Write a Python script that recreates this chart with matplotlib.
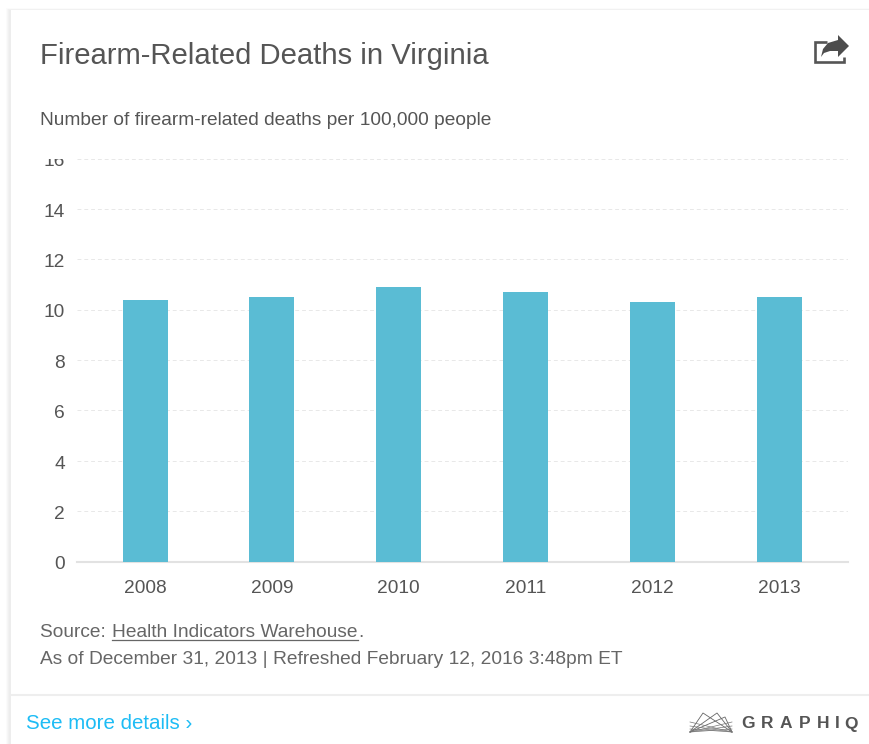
import matplotlib
matplotlib.use("Agg")
import matplotlib.pyplot as plt
from matplotlib.patches import Rectangle, Polygon
from matplotlib.transforms import Bbox, ScaledTranslation

plt.rcParams['font.family'] = ['Liberation Sans', 'DejaVu Sans']

W, H = 870, 744
years = ['2008', '2009', '2010', '2011', '2012', '2013']
rates = [10.4, 10.5, 10.9, 10.7, 10.3, 10.5]
y_ticks = [0, 2, 4, 6, 8, 10, 12, 14, 16]

title = 'Firearm-Related Deaths in Virginia'
subtitle = 'Number of firearm-related deaths per 100,000 people'
source_prefix = 'Source: '
source_link = 'Health Indicators Warehouse'
refreshed = 'As of December 31, 2013 | Refreshed February 12, 2016 3:48pm ET'
details = 'See more details ›'
brand = 'GRAPHIQ'
brand_x = [741, 761, 780, 799, 817, 835, 844]

fig = plt.figure(figsize=(W / 100, H / 100), dpi=100, facecolor='white')

bg = fig.add_axes([0, 0, 1, 1], zorder=0)
bg.set_xlim(0, W)
bg.set_ylim(H, 0)
bg.axis('off')

# card shadow
for x0, y0, c in [(6, 8, '#fbfbfb'), (7, 8.5, '#f6f6f6'), (8.5, 9, '#f1f1f1'), (9.5, 9.5, '#ededed')]:
    bg.add_patch(Rectangle((x0, y0), W, H, fc=c, ec='none', zorder=1))
bg.add_patch(Rectangle((11, 10), W, H, fc='white', ec='none', zorder=2))
bg.plot([11, W], [695, 695], color='#eeeeee', lw=1.5, zorder=3, solid_capstyle='butt')

ax = fig.add_axes([77 / W, 1 - 561.6 / H, (848 - 77) / W, (561.6 - 158.6) / H], zorder=2)
ax.patch.set_alpha(0)
ax.bar(range(len(years)), rates, width=0.355, color='#5abcd4', zorder=3)
ax.set_xlim(-0.537, 5.543)
ax.set_ylim(0, 16)
ax.set_xticks(range(len(years)), years)
ax.set_yticks(y_ticks)
for s in ['top', 'right', 'left']:
    ax.spines[s].set_visible(False)
ax.spines['bottom'].set_color('#e2e2e2')
ax.spines['bottom'].set_linewidth(1.5)
ax.grid(axis='y', color='#e8e8e8', lw=0.7, ls=(0, (4, 3)), zorder=0)
ax.set_axisbelow(True)
ax.tick_params(axis='both', length=0, labelsize=13.8, labelcolor='#555555')
ax.tick_params(axis='x', pad=13.3)
ax.tick_params(axis='y', pad=8.6)

# the top tick label is cut off by the plot frame
clip = Bbox([[0, 0], [W, H - 159]])
nudge = ScaledTranslation(0, -1.2 / 100, fig.dpi_scale_trans)
for lab in ax.get_yticklabels():
    lab.set_transform(lab.get_transform() + nudge)
    lab.set_clip_box(clip)
    lab.set_clip_on(True)

def px(x, y, s, **kw):
    return bg.text(x, y, s, va='baseline', zorder=5, **kw)

px(40, 64, title, fontsize=21.1, color='#555555')
px(40, 125, subtitle, fontsize=13.75, color='#555555')
px(40, 637, source_prefix, fontsize=13.8, color='#666666')
px(112, 637, source_link, fontsize=13.8, color='#666666')
bg.plot([112, 358], [639.5, 639.5], color='#666666', lw=0.9, zorder=5)
px(358, 637, '.', fontsize=13.8, color='#666666')
px(40, 664, refreshed, fontsize=13.8, color='#666666')
px(26, 729, details, fontsize=14.75, color='#1dbcf5')

# share icon
bg.plot([827, 815, 815, 844, 844], [41.5, 41.5, 61.5, 61.5, 57], color='#555555', lw=1.9, zorder=5,
        solid_joinstyle='miter', solid_capstyle='butt')
bg.add_patch(Polygon([(821, 57), (823, 49), (828, 43), (838, 40), (838, 35), (849, 46),
                      (838, 57), (838, 51), (830, 51), (824, 53)], fc='#4d4d4d', ec='none', zorder=6))

# brand mark
for p in [(703, 713), (717, 713), (725, 717)]:
    bg.plot([690, p[0], 732], [732, p[1], 732], color='#666666', lw=0.6, zorder=5)
for y0 in (722, 726, 729):
    bg.plot([690, 732], [732, y0], color='#777777', lw=0.5, zorder=5)
    bg.plot([690, 732], [y0, 732], color='#777777', lw=0.5, zorder=5)
for x, ch in zip(brand_x, brand):
    px(x, 728.5, ch, fontsize=12.5, color='#555555', fontweight='bold')

fig.savefig('out.png', dpi=100, facecolor='white')
